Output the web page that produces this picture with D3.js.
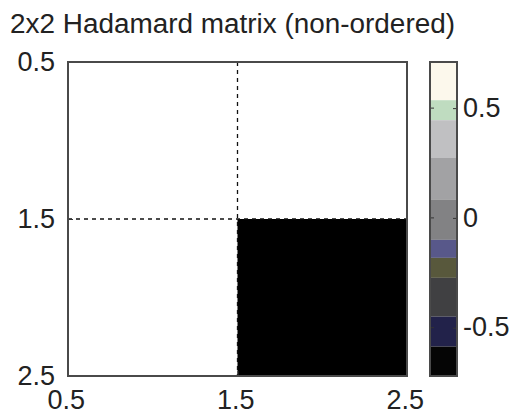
<!DOCTYPE html>
<html lang="en">
<head>
<meta charset="UTF-8">
<title>2x2 Hadamard matrix</title>
<script src="https://d3js.org/d3.v7.min.js"></script>
<style>
  body { margin: 0; background: #fff; }
  text { font-family: "Liberation Sans", Arial, sans-serif; fill: #222; }
</style>
</head>
<body>
<svg width="517" height="416"></svg>
<script>
// matrix values (row, col)
const hadamard = [[1, 1], [1, -1]];
const xTicks = [0.5, 1.5, 2.5];
const yTicks = [0.5, 1.5, 2.5];
const cbTicks = [0.5, 0, -0.5];
const cbTickLabels = ["0.5", "0", "-0.5"];
// colour bar bands: upper bound of each band, top to bottom
const cbBounds = [0.71, 0.536, 0.445, 0.273, 0.082, -0.1, -0.182, -0.273, -0.45, -0.586, -0.72];
const cbColors = ["#fcf8ec", "#bfdcc0", "#c0c0c2", "#a2a2a4", "#828284", "#58588a", "#58583c", "#404042", "#22224a", "#050505"];

const svg = d3.select("svg");
const x = d3.scaleLinear().domain([0.5, 2.5]).range([68, 407]);
const y = d3.scaleLinear().domain([0.5, 2.5]).range([62, 376]);
const cy = d3.scaleLinear().domain([-0.72, 0.71]).range([376, 62]);
const cbX0 = 430, cbX1 = 457;
const fs = 27;

// title
svg.append("text")
    .attr("x", 10).attr("y", 33)
    .attr("font-size", fs)
    .attr("textLength", 445)
    .attr("lengthAdjust", "spacingAndGlyphs")
    .text("2x2 Hadamard matrix (non-ordered)");

// cells
const cells = [];
hadamard.forEach((row, i) => row.forEach((v, j) => cells.push({r: i + 1, c: j + 1, v})));
svg.selectAll(".cell")
    .data(cells)
    .enter().append("rect")
    .attr("class", "cell")
    .attr("x", d => x(d.c - 0.5))
    .attr("y", d => y(d.r - 0.5))
    .attr("width", d => x(d.c + 0.5) - x(d.c - 0.5))
    .attr("height", d => y(d.r + 0.5) - y(d.r - 0.5))
    .attr("fill", d => d.v > 0 ? "#ffffff" : "#000000");

// dashed grid at cell edges
svg.append("line")
    .attr("x1", x(1.5)).attr("x2", x(1.5))
    .attr("y1", y(0.5)).attr("y2", y(2.5))
    .attr("stroke", "#111").attr("stroke-width", 1.3)
    .attr("stroke-dasharray", "4,4");
svg.append("line")
    .attr("x1", x(0.5)).attr("x2", x(2.5))
    .attr("y1", y(1.5)).attr("y2", y(1.5))
    .attr("stroke", "#111").attr("stroke-width", 1.3)
    .attr("stroke-dasharray", "4,4");

// axes
const ax = svg.append("g")
    .attr("transform", `translate(0,${y(2.5)})`)
    .call(d3.axisBottom(x).tickValues(xTicks).tickSize(-5).tickPadding(14).tickFormat(d3.format(".1f")));
const ay = svg.append("g")
    .attr("transform", `translate(${x(0.5)},0)`)
    .call(d3.axisLeft(y).tickValues(yTicks).tickSize(-5).tickPadding(13).tickFormat(d3.format(".1f")));
[ax, ay].forEach(g => {
    g.select(".domain").remove();
    g.selectAll(".tick line").attr("stroke", "#333");
    g.selectAll("text").attr("font-size", fs).attr("fill", "#222")
        .attr("font-family", "'Liberation Sans', Arial, sans-serif");
});
ax.selectAll("text").attr("dx", "-0.08em");
ay.selectAll("text").attr("dy", "0.3em");

// frame
svg.append("rect")
    .attr("x", x(0.5)).attr("y", y(0.5))
    .attr("width", x(2.5) - x(0.5)).attr("height", y(2.5) - y(0.5))
    .attr("fill", "none").attr("stroke", "#4a4a4a").attr("stroke-width", 2);

// colour bar
svg.selectAll(".band")
    .data(cbColors)
    .enter().append("rect")
    .attr("class", "band")
    .attr("x", cbX0).attr("width", cbX1 - cbX0)
    .attr("y", (d, i) => cy(cbBounds[i]))
    .attr("height", (d, i) => cy(cbBounds[i + 1]) - cy(cbBounds[i]))
    .attr("fill", d => d);

const cb = svg.append("g")
    .attr("transform", `translate(${cbX1},0)`)
    .call(d3.axisRight(cy).tickValues(cbTicks).tickSize(-4).tickPadding(6)
        .tickFormat((d, i) => cbTickLabels[i]));
cb.select(".domain").remove();
cb.selectAll(".tick line").attr("stroke", "#333");
cb.selectAll("text").attr("font-size", fs).attr("fill", "#222").attr("dy", "0.3em")
    .attr("font-family", "'Liberation Sans', Arial, sans-serif");
svg.selectAll(".lt")
    .data(cbTicks)
    .enter().append("line")
    .attr("x1", cbX0).attr("x2", cbX0 + 4)
    .attr("y1", d => cy(d)).attr("y2", d => cy(d))
    .attr("stroke", "#333");

svg.append("rect")
    .attr("x", cbX0).attr("y", cy(0.71))
    .attr("width", cbX1 - cbX0).attr("height", cy(-0.72) - cy(0.71))
    .attr("fill", "none").attr("stroke", "#4a4a4a").attr("stroke-width", 2);
</script>
</body>
</html>
